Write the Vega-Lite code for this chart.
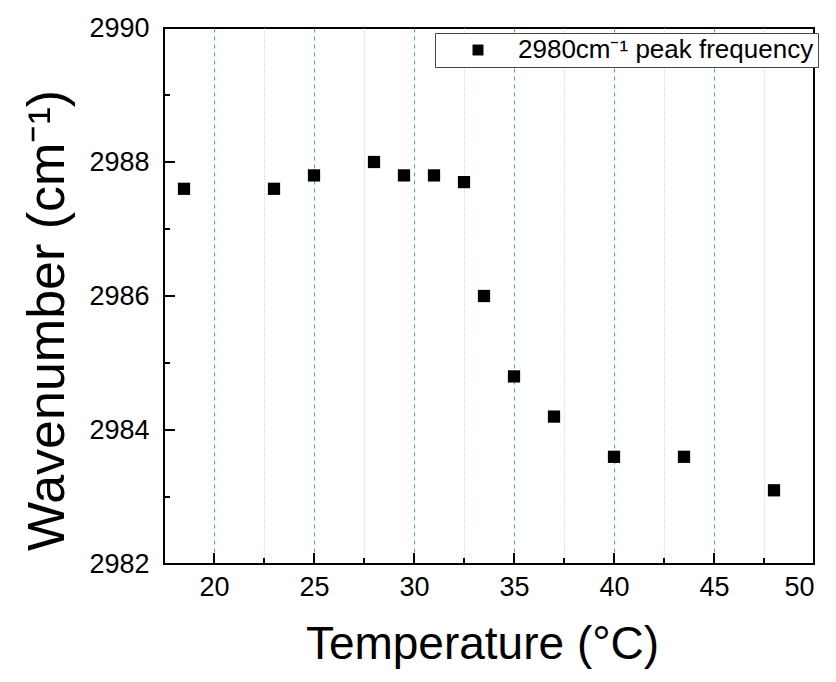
{
  "$schema": "https://vega.github.io/schema/vega-lite/v6.json",
  "autosize": "none",
  "width": 650,
  "height": 536,
  "padding": {"left": 164, "top": 28, "right": 22, "bottom": 118},
  "background": "white",
  "config": {
    "font": "Liberation Sans",
    "view": {"stroke": "black", "strokeWidth": 2},
    "axis": {"domain": false, "grid": false, "labelColor": "black", "titleColor": "black"}
  },
  "datasets": {
    "points": [
      {"temperature": 18.5, "wavenumber": 2987.6, "series": "2980cm⁻¹ peak frequency"},
      {"temperature": 23.0, "wavenumber": 2987.6, "series": "2980cm⁻¹ peak frequency"},
      {"temperature": 25.0, "wavenumber": 2987.8, "series": "2980cm⁻¹ peak frequency"},
      {"temperature": 28.0, "wavenumber": 2988.0, "series": "2980cm⁻¹ peak frequency"},
      {"temperature": 29.5, "wavenumber": 2987.8, "series": "2980cm⁻¹ peak frequency"},
      {"temperature": 31.0, "wavenumber": 2987.8, "series": "2980cm⁻¹ peak frequency"},
      {"temperature": 32.5, "wavenumber": 2987.7, "series": "2980cm⁻¹ peak frequency"},
      {"temperature": 33.5, "wavenumber": 2986.0, "series": "2980cm⁻¹ peak frequency"},
      {"temperature": 35.0, "wavenumber": 2984.8, "series": "2980cm⁻¹ peak frequency"},
      {"temperature": 37.0, "wavenumber": 2984.2, "series": "2980cm⁻¹ peak frequency"},
      {"temperature": 40.0, "wavenumber": 2983.6, "series": "2980cm⁻¹ peak frequency"},
      {"temperature": 43.5, "wavenumber": 2983.6, "series": "2980cm⁻¹ peak frequency"},
      {"temperature": 48.0, "wavenumber": 2983.1, "series": "2980cm⁻¹ peak frequency"}
    ],
    "xticks": [
      {"t": 20, "kind": "major"}, {"t": 22.5, "kind": "minor"}, {"t": 25, "kind": "major"}, {"t": 27.5, "kind": "minor"},
      {"t": 30, "kind": "major"}, {"t": 32.5, "kind": "minor"}, {"t": 35, "kind": "major"}, {"t": 37.5, "kind": "minor"},
      {"t": 40, "kind": "major"}, {"t": 42.5, "kind": "minor"}, {"t": 45, "kind": "major"}, {"t": 47.5, "kind": "minor"}
    ],
    "yticks": [
      {"w": 2983, "kind": "minor"}, {"w": 2984, "kind": "major"}, {"w": 2985, "kind": "minor"}, {"w": 2986, "kind": "major"},
      {"w": 2987, "kind": "minor"}, {"w": 2988, "kind": "major"}, {"w": 2989, "kind": "minor"}
    ]
  },
  "resolve": {"axis": {"x": "independent", "y": "independent"}},
  "layer": [
    {
      "data": {"name": "points"},
      "mark": {"type": "point", "opacity": 0},
      "encoding": {
        "x": {"field": "temperature", "type": "quantitative",
              "scale": {"domain": [17.5, 50], "nice": false, "zero": false},
              "axis": {"orient": "bottom", "values": [22.5, 27.5, 32.5, 37.5, 42.5, 47.5], "labels": false, "ticks": false, "title": null,
                       "grid": true, "gridColor": "#9fe09f", "gridDash": [1, 2], "gridWidth": 1}},
        "y": {"field": "wavenumber", "type": "quantitative",
              "scale": {"domain": [2982, 2990], "nice": false, "zero": false},
              "axis": null}
      }
    },
    {
      "data": {"name": "points"},
      "mark": {"type": "point", "opacity": 0},
      "encoding": {
        "x": {"field": "temperature", "type": "quantitative",
              "axis": {"orient": "bottom", "values": [20, 25, 30, 35, 40, 45], "labels": false, "ticks": false, "title": null,
                       "grid": true, "gridColor": "#3cc83c", "gridDash": [4, 4], "gridWidth": 1}},
        "y": {"field": "wavenumber", "type": "quantitative", "axis": null}
      }
    },
    {
      "data": {"name": "xticks"},
      "transform": [{"filter": "datum.kind == 'major'"}],
      "mark": {"type": "rule", "color": "black", "strokeWidth": 2},
      "encoding": {
        "x": {"field": "t", "type": "quantitative", "axis": null},
        "y": {"datum": 2982, "type": "quantitative", "axis": null},
        "y2": {"datum": 2982.165}
      }
    },
    {
      "data": {"name": "xticks"},
      "transform": [{"filter": "datum.kind == 'minor'"}],
      "mark": {"type": "rule", "color": "black", "strokeWidth": 2},
      "encoding": {
        "x": {"field": "t", "type": "quantitative", "axis": null},
        "y": {"datum": 2982, "type": "quantitative", "axis": null},
        "y2": {"datum": 2982.09}
      }
    },
    {
      "data": {"name": "yticks"},
      "transform": [{"filter": "datum.kind == 'major'"}],
      "mark": {"type": "rule", "color": "black", "strokeWidth": 2},
      "encoding": {
        "y": {"field": "w", "type": "quantitative", "axis": null},
        "x": {"datum": 17.5, "type": "quantitative", "axis": null},
        "x2": {"datum": 18.05}
      }
    },
    {
      "data": {"name": "yticks"},
      "transform": [{"filter": "datum.kind == 'minor'"}],
      "mark": {"type": "rule", "color": "black", "strokeWidth": 2},
      "encoding": {
        "y": {"field": "w", "type": "quantitative", "axis": null},
        "x": {"datum": 17.5, "type": "quantitative", "axis": null},
        "x2": {"datum": 17.8}
      }
    },
    {
      "data": {"name": "points"},
      "mark": {"type": "point", "shape": "square", "filled": true, "size": 150, "opacity": 1},
      "encoding": {
        "x": {"field": "temperature", "type": "quantitative",
              "axis": {"orient": "bottom", "values": [20, 25, 30, 35, 40, 45, 50], "ticks": false, "format": "d",
                       "labelFontSize": 27, "labelPadding": 10, "title": "Temperature (°C)", "titleFontSize": 46,
                       "titleFontWeight": "normal", "titlePadding": 22, "titleX": 318}},
        "y": {"field": "wavenumber", "type": "quantitative",
              "axis": {"orient": "left", "values": [2982, 2984, 2986, 2988, 2990], "ticks": false, "format": "d",
                       "labelFontSize": 27, "labelPadding": 15, "title": "Wavenumber (cm⁻¹)", "titleFontSize": 52,
                       "titleFontWeight": "normal", "titlePadding": 14, "titleY": 292}},
        "color": {"field": "series", "type": "nominal",
                  "scale": {"range": ["black"]},
                  "legend": {"title": null, "orient": "none", "legendX": 271, "legendY": 5,
                             "fillColor": "white", "strokeColor": "#444", "padding": 4,
                             "symbolType": "square", "symbolSize": 120, "symbolOffset": 26,
                             "labelFontSize": 26, "labelOffset": 27, "labelLimit": 400, "labelColor": "black"}}
      }
    }
  ]
}
